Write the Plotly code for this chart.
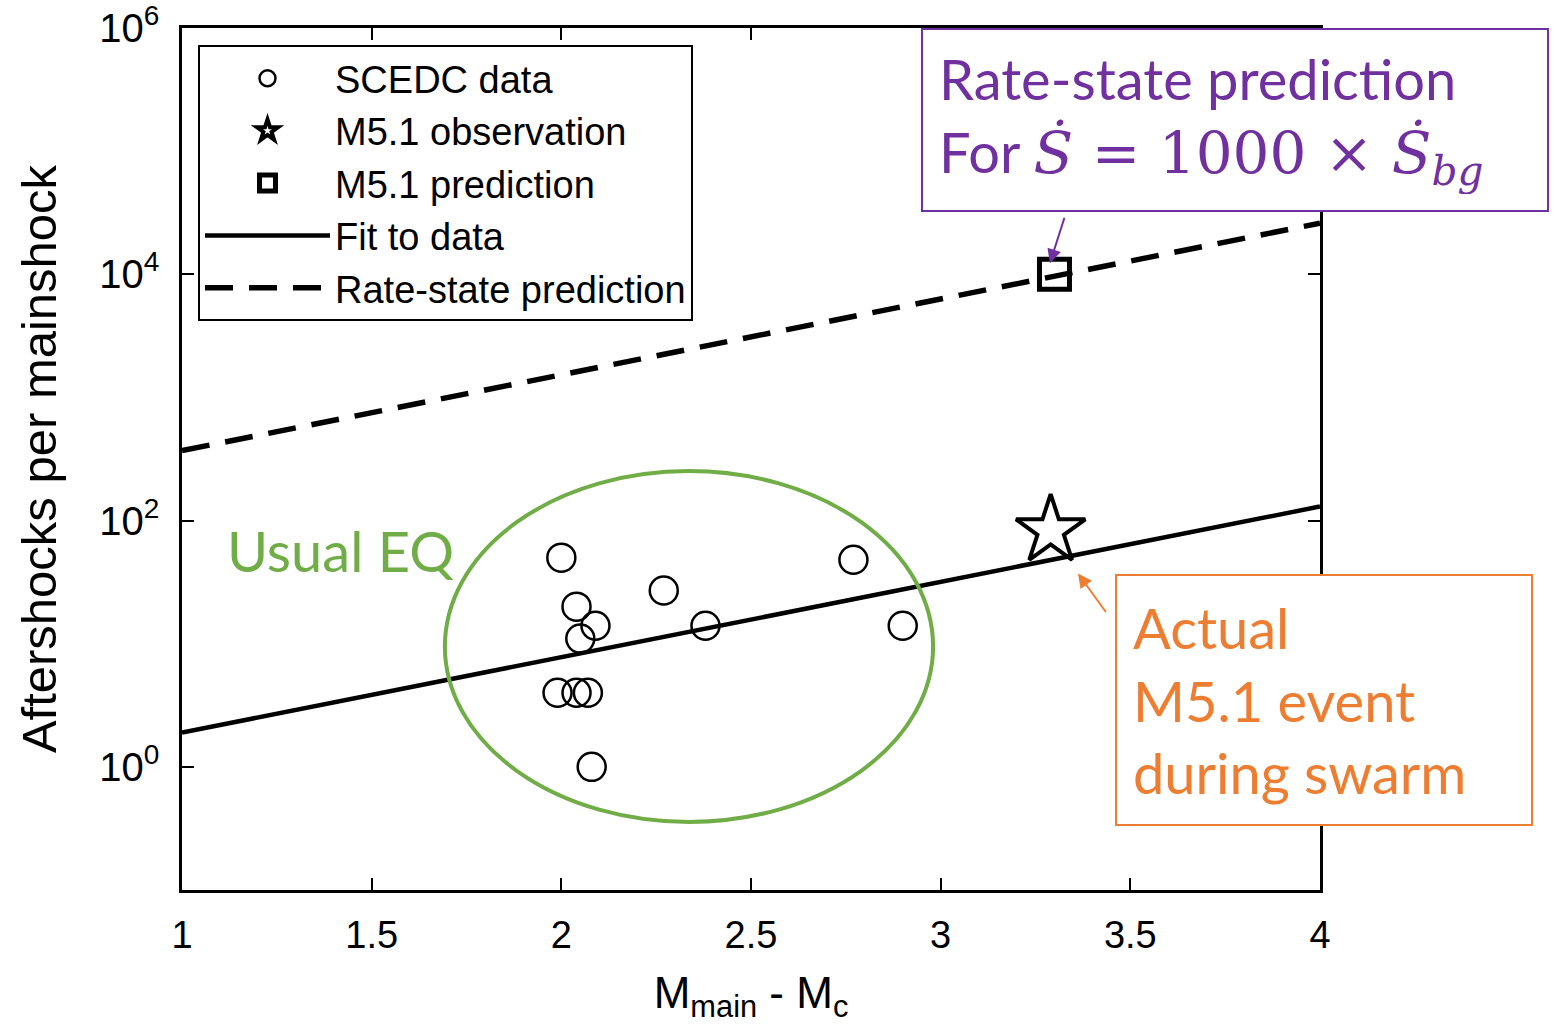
import plotly.graph_objects as go

# ---- data ----
scedc_x = [2.00, 2.04, 2.05, 2.09, 1.99, 2.04, 2.07, 2.08, 2.27, 2.38, 2.77, 2.90]
scedc_y = [50, 20, 11, 14, 4, 4, 4, 1, 27, 14, 48, 14]
obs_x = [3.29]
obs_y = [83]
pred_x = [3.30]
pred_y = [10000]
fit_x = [1, 4]
fit_y = [1.9, 130]
rs_x = [1, 4]
rs_y = [370, 26000]

x_tickvals = [1, 1.5, 2, 2.5, 3, 3.5, 4]
x_ticktext = ["1", "1.5", "2", "2.5", "3", "3.5", "4"]
y_tickvals = [1, 100, 1e4, 1e6]
y_ticktext = ["10<sup>0</sup>", "10<sup>2</sup>", "10<sup>4</sup>", "10<sup>6</sup>"]

AX_FONT = "Liberation Sans, Arial, sans-serif"
TXT_FONT = "Lato, Carlito, sans-serif"
GREEN = "#70AD47"
ORANGE = "#ED7D31"
PURPLE = "#7030A0"

fig = go.Figure()
fig.add_trace(go.Scatter(x=scedc_x, y=scedc_y, mode="markers", name="SCEDC data",
                         marker=dict(symbol="circle-open", size=28, color="black",
                                     line=dict(width=2.5, color="black"))))
fig.add_trace(go.Scatter(x=obs_x, y=obs_y, mode="markers", name="M5.1 observation",
                         marker=dict(symbol="star-open", size=52, color="black",
                                     line=dict(width=4, color="black"))))
fig.add_trace(go.Scatter(x=pred_x, y=pred_y, mode="markers", name="M5.1 prediction",
                         marker=dict(symbol="square-open", size=30, color="black",
                                     line=dict(width=5, color="black"))))
fig.add_trace(go.Scatter(x=fit_x, y=fit_y, mode="lines", name="Fit to data",
                         line=dict(color="black", width=4.5)))
fig.add_trace(go.Scatter(x=rs_x, y=rs_y, mode="lines", name="Rate-state prediction",
                         line=dict(color="black", width=5.5, dash="28px,16px")))

# usual-EQ ellipse
fig.add_shape(type="circle", xref="x", yref="paper",
              x0=1.693, x1=2.980, y0=0.079, y1=0.486,
              line=dict(color=GREEN, width=4), layer="above")

annotations = [
    dict(text="Usual EQ", xref="x", yref="y", x=1.417, y=1.76, showarrow=False,
         font=dict(family=TXT_FONT, size=56, color=GREEN)),
    # purple arrow to square
    dict(text="", xref="x", yref="y", x=3.288, y=4.09, ax=15, ay=-47,
         showarrow=True, arrowhead=2, arrowsize=1.4, arrowwidth=2, arrowcolor=PURPLE),
    # orange arrow to fit line
    dict(text="", xref="x", yref="y", x=3.362, y=1.57, ax=29, ay=40,
         showarrow=True, arrowhead=2, arrowsize=1.4, arrowwidth=2, arrowcolor=ORANGE),
    # purple box
    dict(text=("Rate-state prediction<br>For <span style=\"font-family:DejaVu Serif; font-size:58px\">"
               "<i>Ṡ</i> = 1000 × <i>Ṡ</i><sub><i>bg</i></sub></span>"),
         xref="paper", yref="paper", x=(921 - 182) / 1138, y=1.0,
         xanchor="left", yanchor="top", align="left", showarrow=False,
         width=592, height=148, borderpad=16, borderwidth=2, bordercolor=PURPLE,
         bgcolor="white", font=dict(family=TXT_FONT, size=56, color=PURPLE)),
    # orange box
    dict(text="Actual<br>M5.1 event<br>during swarm",
         xref="paper", yref="paper", x=(1115 - 182) / 1138, y=(890 - 574) / 862,
         xanchor="left", yanchor="top", align="left", showarrow=False,
         width=382, height=216, borderpad=16, borderwidth=2, bordercolor=ORANGE,
         bgcolor="white", font=dict(family=TXT_FONT, size=56, color=ORANGE)),
]

fig.update_layout(
    width=1554, height=1034,
    margin=dict(l=182, r=234, t=28, b=144, autoexpand=False),
    paper_bgcolor="white", plot_bgcolor="white",
    font=dict(family=AX_FONT, color="black"),
    showlegend=True,
    legend=dict(x=(198 - 182) / 1138, y=(890 - 45) / 862, xanchor="left", yanchor="top",
                bgcolor="white", bordercolor="black", borderwidth=2,
                font=dict(family=AX_FONT, size=38, color="black"),
                itemwidth=125, tracegroupgap=0),
    annotations=annotations,
    xaxis=dict(range=[1, 4], tickvals=x_tickvals, ticktext=x_ticktext,
               ticks="inside", ticklen=12, tickwidth=2, tickcolor="black",
               showline=True, linewidth=2.5, linecolor="black", mirror="ticks",
               showgrid=False, zeroline=False, ticklabelstandoff=10,
               tickfont=dict(family=AX_FONT, size=38, color="black"),
               title=dict(text="M<sub>main</sub> - M<sub>c</sub>", standoff=22,
                          font=dict(family=AX_FONT, size=44, color="black"))),
    yaxis=dict(type="log", range=[-1, 6], tickvals=y_tickvals, ticktext=y_ticktext,
               ticks="inside", ticklen=12, tickwidth=2, tickcolor="black",
               showline=True, linewidth=2.5, linecolor="black", mirror="ticks",
               showgrid=False, zeroline=False, ticklabelstandoff=12,
               tickfont=dict(family=AX_FONT, size=40, color="black"),
               title=dict(text="Aftershocks per mainshock", standoff=28,
                          font=dict(family=AX_FONT, size=49, color="black"))),
)

fig.write_html("out.html", config={"displayModeBar": False},
               post_script="document.body.style.margin='0';")
